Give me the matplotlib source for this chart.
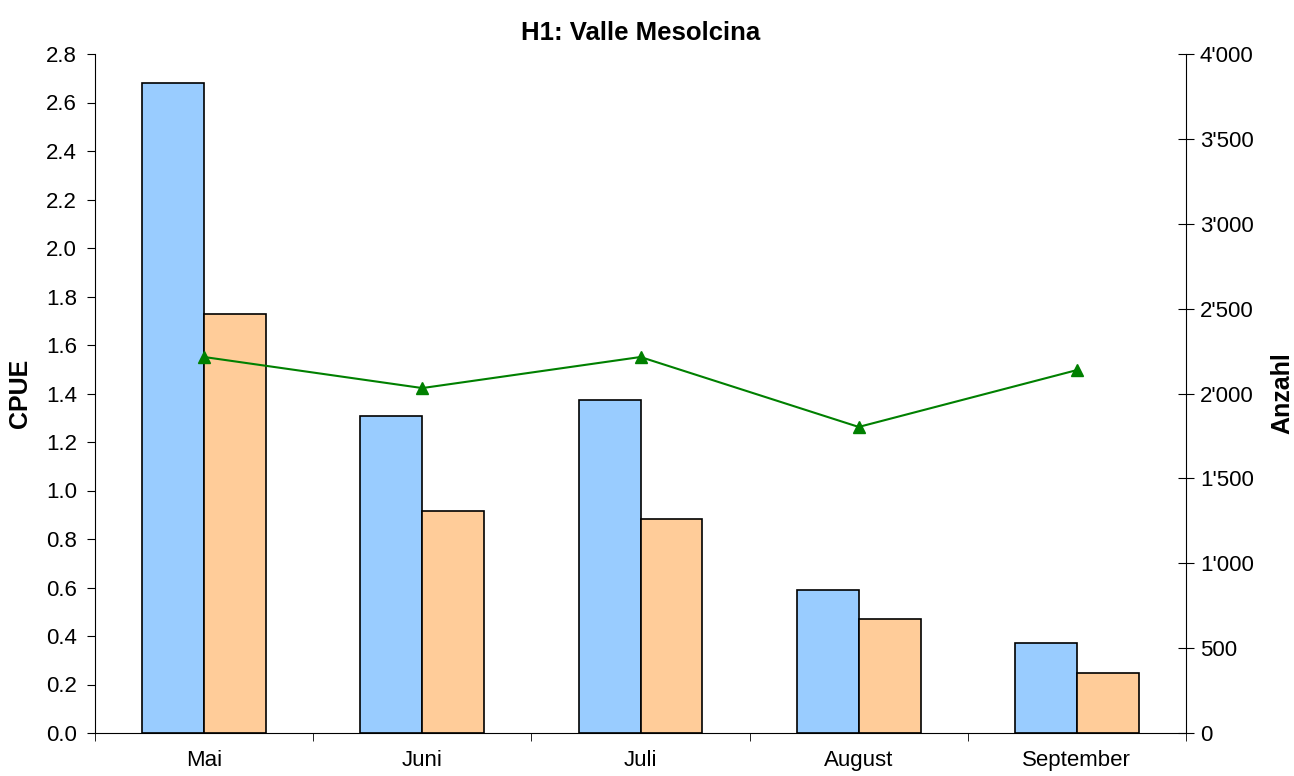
import matplotlib.pyplot as plt
from matplotlib.ticker import FuncFormatter
import numpy as np

plt.rcParams['font.family'] = ['Liberation Sans', 'DejaVu Sans']

months = ["Mai", "Juni", "Juli", "August", "September"]
cpue_a = [2.68, 1.307, 1.373, 0.59, 0.371]
cpue_b = [1.728, 0.915, 0.882, 0.47, 0.247]
anzahl = [2215, 2032, 2215, 1803, 2138]


def apostrophe(v, pos):
    return f"{int(v):,}".replace(",", "'")


fig = plt.figure(figsize=(12.94, 7.76), dpi=100)
ax = fig.add_axes([95 / 1294, 1 - 733 / 776, (1186 - 95) / 1294, (733 - 54) / 776])
x = np.arange(len(months))
w = 0.284
ax.bar(x - w / 2, cpue_a, w, color="#99CCFF", edgecolor="black", linewidth=1.2, zorder=2)
ax.bar(x + w / 2, cpue_b, w, color="#FFCC99", edgecolor="black", linewidth=1.2, zorder=2)
ax.set_xlim(-0.5, len(months) - 0.5)
ax.set_ylim(0, 2.8)
ax.set_yticks(np.arange(0, 2.81, 0.2))
ax.yaxis.set_major_formatter(FuncFormatter(lambda v, p: f"{v:.1f}"))
ax.set_xticks(x)
ax.set_xticklabels(months)
ax.tick_params(axis="x", length=0, labelsize=16, pad=12)
ax.set_xticks(np.arange(-0.5, len(months) - 0.4, 1), minor=True)
ax.tick_params(axis="x", which="minor", length=6, direction="out")
ax.tick_params(axis="y", labelsize=16, length=6, direction="out", pad=7)
ax.spines["top"].set_visible(False)
ax.spines["right"].set_visible(False)
ax.set_ylabel("CPUE", fontsize=18, fontweight="bold", labelpad=10)
ax.set_title("H1: Valle Mesolcina", fontsize=18.5, fontweight="bold", pad=10)

ax2 = ax.twinx()
ax2.plot(x, anzahl, color="#008000", marker="^", markersize=8, linewidth=1.5, zorder=3)
ax2.set_ylim(0, 4000)
ax2.set_yticks(np.arange(0, 4001, 500))
ax2.yaxis.set_major_formatter(FuncFormatter(apostrophe))
ax2.tick_params(axis="y", labelsize=16, length=12, direction="inout", pad=4)
ax2.spines["top"].set_visible(False)
ax2.spines["left"].set_visible(False)
ax2.spines["bottom"].set_visible(False)
ax2.set_ylabel("Anzahl", fontsize=18, fontweight="bold", labelpad=12)

fig.savefig("out.png", dpi=100)
